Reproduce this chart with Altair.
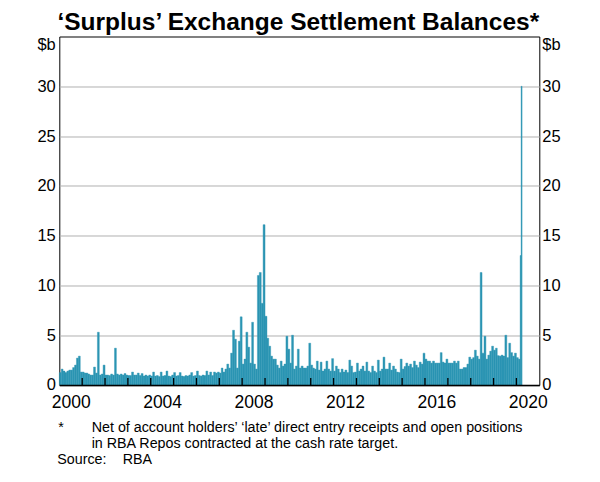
import altair as alt
import pandas as pd

# Monthly 'surplus' ES balances ($b)
vals_2000 = [1.25, 1.6, 1.4, 1.25, 1.4, 1.5, 1.5, 1.75, 2.0, 2.7, 2.9, 1.3]
vals_2001 = [1.3, 1.2, 1.2, 1.1, 1.0, 1.0, 1.8, 1.2, 5.3, 1.0, 1.1, 2.0]
vals_2002 = [1.0, 1.0, 0.95, 1.1, 1.0, 3.7, 1.1, 1.0, 1.1, 1.0, 1.15, 1.0]
vals_2003 = [0.95, 0.95, 1.3, 1.0, 1.0, 1.2, 0.95, 1.15, 0.9, 1.0, 0.9, 1.0]
vals_2004 = [0.9, 1.3, 0.9, 0.95, 0.85, 1.3, 0.9, 0.95, 1.4, 0.9, 0.85, 1.0]
vals_2005 = [1.25, 0.9, 0.95, 1.25, 0.9, 0.85, 0.95, 0.9, 1.0, 1.25, 0.9, 0.95]
vals_2006 = [1.4, 0.95, 0.9, 1.0, 0.95, 1.4, 1.0, 1.3, 0.95, 1.3, 1.2, 1.3]
vals_2007 = [1.2, 1.7, 1.3, 1.6, 2.1, 1.7, 3.2, 5.5, 4.6, 1.7, 4.4, 6.85]
vals_2008 = [2.1, 2.6, 5.3, 3.8, 2.2, 6.3, 2.1, 1.6, 11.0, 11.3, 8.2, 16.1]
vals_2009 = [6.9, 4.7, 3.9, 2.9, 2.6, 2.6, 2.0, 1.7, 2.4, 1.9, 2.1, 4.9]
vals_2010 = [3.6, 2.2, 5.0, 1.6, 1.9, 3.6, 1.7, 1.9, 1.7, 1.7, 1.9, 4.2]
vals_2011 = [2.0, 1.7, 1.6, 2.4, 1.5, 2.3, 1.4, 1.6, 2.4, 1.6, 1.4, 2.65]
vals_2012 = [1.4, 1.9, 1.6, 1.25, 1.6, 1.3, 1.5, 1.25, 2.5, 1.9, 1.25, 1.3]
vals_2013 = [2.2, 1.4, 1.6, 1.9, 1.4, 2.3, 1.4, 1.25, 1.9, 1.4, 1.25, 2.5]
vals_2014 = [1.4, 1.6, 2.8, 1.6, 1.6, 2.2, 1.5, 1.9, 1.6, 1.3, 1.25, 2.6]
vals_2015 = [1.6, 1.85, 2.2, 1.9, 2.1, 1.75, 2.4, 2.0, 1.75, 2.3, 2.1, 3.2]
vals_2016 = [2.6, 2.4, 2.4, 2.2, 2.4, 2.2, 2.2, 2.2, 3.25, 2.3, 2.2, 2.6]
vals_2017 = [2.2, 2.2, 2.2, 2.4, 2.2, 2.4, 1.6, 1.6, 1.75, 1.75, 2.1, 2.8]
vals_2018 = [2.6, 2.75, 3.5, 2.9, 2.6, 11.3, 3.2, 4.9, 2.6, 3.0, 3.4, 3.9]
vals_2019 = [3.5, 3.7, 2.95, 2.9, 3.0, 2.9, 5.0, 2.75, 4.2, 3.25, 2.9, 3.2]
vals_2020 = [2.75, 2.6]
# March 2020 in two halves
mar2020_starts = ["2020-03-01", "2020-03-16"]
mar2020_ends = ["2020-03-16", "2020-04-01"]
mar2020_vals = [13.0, 30.0]

year_ticks = [str(y) for y in range(2001, 2021)]
x_label_years = [2000, 2004, 2008, 2012, 2016, 2020]
y_ticks = [0, 5, 10, 15, 20, 25, 30]

title_text = "‘Surplus’ Exchange Settlement Balances*"
note_star = "*"
note_line1 = "Net of account holders’ ‘late’ direct entry receipts and open positions"
note_line2 = "in RBA Repos contracted at the cash rate target."
source_label = "Source:"
source_text = "RBA"

monthly = (vals_2000 + vals_2001 + vals_2002 + vals_2003 + vals_2004 + vals_2005 +
           vals_2006 + vals_2007 + vals_2008 + vals_2009 + vals_2010 + vals_2011 +
           vals_2012 + vals_2013 + vals_2014 + vals_2015 + vals_2016 + vals_2017 +
           vals_2018 + vals_2019 + vals_2020)
starts = pd.date_range("2000-01-01", periods=len(monthly), freq="MS")
ends = starts + pd.offsets.MonthBegin(1)
df = pd.DataFrame({
    "start": list(starts.strftime("%Y-%m-%d")) + mar2020_starts,
    "end": list(ends.strftime("%Y-%m-%d")) + mar2020_ends,
    "v": monthly + mar2020_vals,
})
ticks_df = pd.DataFrame({"d": [y + "-01-01" for y in year_ticks]})

W, H = 480, 348.5
FONT = "Liberation Sans"
BAR = "#2b95b3"

xscale = alt.Scale(domain=[alt.DateTime(year=2000, month=1, date=1, utc=True),
                           alt.DateTime(year=2021, month=1, date=1, utc=True)])
yscale = alt.Scale(domain=[0, 35], nice=False, zero=True)

xaxis = alt.Axis(
    values=[alt.DateTime(year=y, month=7, date=1, utc=True) for y in x_label_years],
    labelExpr="utcFormat(datum.value, '%Y')",
    title=None, ticks=False, grid=False, domain=True, domainColor="black",
    domainWidth=1.5, labelFontSize=17.5, labelPadding=22.5, labelBaseline="alphabetic",
    labelFlush=False, labelOverlap=False, zindex=1,
)
left_axis = alt.Axis(
    values=y_ticks, title="$b", titleAngle=0, titleAlign="right", titleBaseline="middle",
    titleX=-4, titleY=8, titleFontSize=16.5, labelFontSize=16.5, labelPadding=4,
    ticks=False, domain=False, grid=True, gridColor="#b0b0b0", gridWidth=1,
)
right_axis = alt.Axis(
    values=y_ticks, orient="right", title="$b", titleAngle=0, titleAlign="left",
    titleBaseline="middle", titleX=2.5, titleY=8, titleFontSize=16.5,
    labelFontSize=16.5, labelPadding=2.5, ticks=False, domain=False, grid=False,
)

bars = alt.Chart(df).mark_rect(color=BAR, stroke=BAR, strokeWidth=0.4).encode(
    x=alt.X("start:T", scale=xscale, axis=xaxis),
    x2="end:T",
    y=alt.Y("v:Q", scale=yscale, axis=left_axis),
    y2=alt.datum(0),
)
right = alt.Chart(df).mark_point(opacity=0).encode(
    x=alt.X("start:T", scale=xscale),
    y=alt.Y("v:Q", scale=yscale, axis=right_axis),
)
ticks = alt.Chart(ticks_df).mark_rule(color="black", strokeWidth=1.3).encode(
    x=alt.X("d:T", scale=xscale),
    y=alt.value(H),
    y2=alt.value(H - 7),
)


def txt(s, x, y, size, align="left", weight="normal"):
    return alt.Chart(pd.DataFrame({"t": [s]})).mark_text(
        font=FONT, fontSize=size, fontWeight=weight, align=align,
        baseline="alphabetic", color="black",
    ).encode(text="t:N", x=alt.value(x), y=alt.value(y))


B = H  # footnote positions measured from the plot bottom
texts = [
    txt(title_text, W / 2 - 1, -6.2, 24.5, align="center", weight="bold"),
    txt(note_star, -1, B + 47, 14.3),
    txt(note_line1, 32.4, B + 47, 14.3),
    txt(note_line2, 32.4, B + 63, 14.3),
    txt(source_label, -2, B + 79.5, 14.3),
    txt(source_text, 63.4, B + 79.5, 14.3),
]

chart = alt.layer(bars, ticks, right, *texts).resolve_scale(y="independent").properties(
    width=W, height=H,
    autosize=alt.AutoSizeParams(type="none"),
    padding={"left": 51.3, "top": 28.5, "right": 45, "bottom": 83},
).configure_view(stroke="black", strokeWidth=1).configure_axis(
    labelFont=FONT, titleFont=FONT, labelColor="black", titleColor="black",
    titleFontWeight="normal",
)

chart.save("out.html", embed_options={"renderer": "svg", "actions": False})
